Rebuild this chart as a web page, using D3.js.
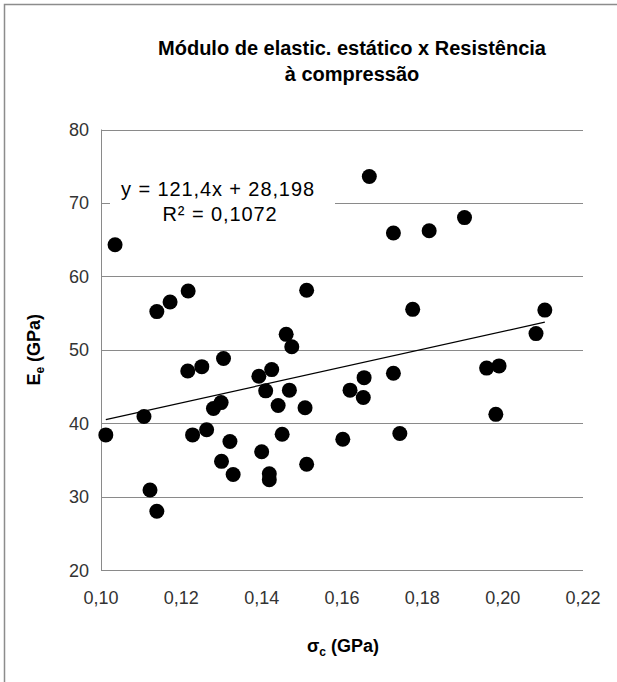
<!DOCTYPE html>
<html>
<head>
<meta charset="utf-8">
<script src="https://cdn.jsdelivr.net/npm/d3@7"></script>
<style>
  body { margin: 0; background: #fff; }
  text { font-family: "Liberation Sans", Arial, sans-serif; }
</style>
</head>
<body>
<div id="chart"></div>
<script>
// compressive strength (GPa)
const sigmaC = [0.1012, 0.1035, 0.1107, 0.1122, 0.1139, 0.1139, 0.1172, 0.1216, 0.1217, 0.1228,
  0.1251, 0.1263, 0.1280, 0.1299, 0.1300, 0.1305, 0.1321, 0.1329, 0.1393, 0.1400,
  0.1410, 0.1419, 0.1419, 0.1425, 0.1441, 0.1451, 0.1461, 0.1469, 0.1475, 0.1508,
  0.1512, 0.1512, 0.1602, 0.1620, 0.1653, 0.1655, 0.1668, 0.1728, 0.1728, 0.1744,
  0.1776, 0.1817, 0.1905, 0.1960, 0.1983, 0.1991, 0.2083, 0.2105]
// static elastic modulus (GPa)
const modE = [38.4, 64.3, 40.9, 30.9, 28.0, 55.2, 56.5, 47.1, 58.0, 38.4,
  47.7, 39.1, 42.0, 42.8, 34.8, 48.8, 37.5, 33.0, 46.4, 36.1,
  44.4, 33.1, 32.3, 47.3, 42.4, 38.5, 52.1, 44.5, 50.4, 42.1,
  58.1, 34.4, 37.8, 44.5, 43.5, 46.2, 73.6, 65.9, 46.8, 38.6,
  55.5, 66.2, 68.0, 47.5, 41.2, 47.8, 52.2, 55.4]

const xTicks = [0.10, 0.12, 0.14, 0.16, 0.18, 0.20, 0.22]
const yTicks = [20, 30, 40, 50, 60, 70, 80]
const slope = 121.4, intercept = 28.198

const width = 617, height = 682
const margin = {top: 129.5, right: 34, bottom: 112, left: 101}

let svg = d3.select("#chart")
  .append("svg")
    .attr("width", width)
    .attr("height", height)

// frame (only top and left visible in the crop)
svg.append("path")
  .attr("d", "M4.5,682 V4.5 H617")
  .attr("fill", "none")
  .attr("stroke", "#8c8c8c")
  .attr("stroke-width", 1.5)

let x = d3.scaleLinear().domain([0.10, 0.22]).range([margin.left, width - margin.right])
let y = d3.scaleLinear().domain([20, 80]).range([height - margin.bottom, margin.top])

const fmt = d3.format(".2f")

// gridlines
svg.append("g")
  .selectAll("line")
  .data(yTicks)
  .enter()
  .append("line")
    .attr("x1", x(0.10))
    .attr("x2", x(0.22))
    .attr("y1", d => Math.round(y(d)) + 0.5)
    .attr("y2", d => Math.round(y(d)) + 0.5)
    .attr("stroke", "#8a8a8a")
    .attr("stroke-width", 1)

// y axis line
svg.append("line")
  .attr("x1", Math.round(x(0.10)) + 0.5)
  .attr("x2", Math.round(x(0.10)) + 0.5)
  .attr("y1", y(80))
  .attr("y2", y(20))
  .attr("stroke", "#8a8a8a")

// tick labels
svg.append("g")
  .selectAll("text")
  .data(yTicks)
  .enter()
  .append("text")
    .attr("x", x(0.10) - 12)
    .attr("y", d => y(d) + 6.5)
    .attr("text-anchor", "end")
    .attr("font-size", "18px")
    .attr("fill", "#333")
    .text(d => d)

svg.append("g")
  .selectAll("text")
  .data(xTicks)
  .enter()
  .append("text")
    .attr("x", d => x(d))
    .attr("y", y(20) + 34)
    .attr("text-anchor", "middle")
    .attr("font-size", "18px")
    .attr("fill", "#333")
    .text(d => fmt(d).replace(".", ","))

// trendline
let xMin = d3.min(sigmaC), xMax = d3.max(sigmaC)
svg.append("line")
  .attr("x1", x(xMin))
  .attr("y1", y(slope * xMin + intercept))
  .attr("x2", x(xMax))
  .attr("y2", y(slope * xMax + intercept))
  .attr("stroke", "#000")
  .attr("stroke-width", 1.2)

// points
svg.append("g")
  .selectAll("circle")
  .data(sigmaC)
  .enter()
  .append("circle")
    .attr("cx", d => x(d))
    .attr("cy", (d, i) => y(modE[i]))
    .attr("r", 7.5)
    .attr("fill", "#000")

// equation label
svg.append("rect")
  .attr("x", 110)
  .attr("y", 178)
  .attr("width", 225)
  .attr("height", 52)
  .attr("fill", "#fff")

svg.append("text")
  .attr("x", 218)
  .attr("y", 196)
  .attr("text-anchor", "middle")
  .attr("font-size", "20px")
  .attr("letter-spacing", "0.9px")
  .text("y = 121,4x + 28,198")

svg.append("text")
  .attr("x", 220)
  .attr("y", 221)
  .attr("text-anchor", "middle")
  .attr("font-size", "20px")
  .attr("letter-spacing", "0.9px")
  .text("R² = 0,1072")

// title
let title = svg.append("text")
  .attr("text-anchor", "middle")
  .attr("font-size", "20px")
  .attr("font-weight", "bold")
title.append("tspan").attr("x", 352).attr("y", 55).text("Módulo de elastic. estático  x Resistência")
title.append("tspan").attr("x", 352).attr("y", 81).text("à compressão")

// axis titles
let xt = svg.append("text")
  .attr("x", 343)
  .attr("y", 652)
  .attr("text-anchor", "middle")
  .attr("font-size", "18px")
  .attr("font-weight", "bold")
xt.append("tspan").text("σ")
xt.append("tspan").attr("font-size", "12px").attr("dy", 4).text("c")
xt.append("tspan").attr("dy", -4).text(" (GPa)")

let yt = svg.append("text")
  .attr("transform", `translate(40, ${y(50)}) rotate(-90)`)
  .attr("text-anchor", "middle")
  .attr("font-size", "18px")
  .attr("font-weight", "bold")
yt.append("tspan").text("E")
yt.append("tspan").attr("font-size", "12px").attr("dy", 4).text("e")
yt.append("tspan").attr("dy", -4).text(" (GPa)")
</script>
</body>
</html>
